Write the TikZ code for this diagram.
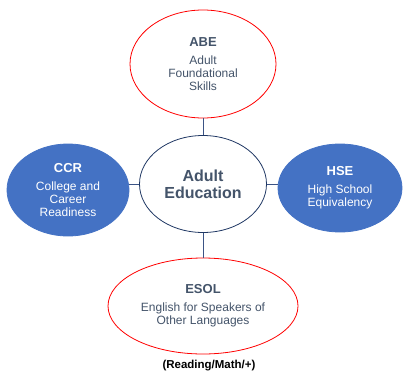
\documentclass[tikz,border=0pt]{standalone}
\usepackage{fontspec}
\setmainfont{Liberation Sans}
\usetikzlibrary{shapes.geometric}
\definecolor{textc}{HTML}{44546A}
\definecolor{fillc}{HTML}{4472C4}
\definecolor{navyc}{HTML}{203864}
\definecolor{linec}{HTML}{3B5385}
\tikzset{
  oval/.style={shape=ellipse, inner sep=0pt, align=center, line width=0.8pt,
    font=\fontsize{12}{13}\selectfont},
  redoval/.style={oval, draw=red, fill=white, text=textc},
  blueoval/.style={oval, draw=fillc, fill=fillc, text=white},
  link/.style={draw=linec, line width=0.8pt}
}
\newcommand{\ttl}[1]{{\fontsize{13}{13}\selectfont\bfseries #1}\\[5pt]}

\begin{document}
\begin{tikzpicture}[x=1pt,y=-1pt]
        \useasboundingbox (0,0) rectangle (404,375);

        \node[redoval, minimum width=146pt, minimum height=108pt]
        (abe) at (203,64) {\ttl{ABE}Adult\\Foundational\\Skills};
        \node[oval, draw=navyc, fill=white, text=textc, minimum width=127pt, minimum height=97pt,
              font=\fontsize{16}{17}\selectfont\bfseries]
        (ctr) at (203,184) {Adult\\Education};
        \node[blueoval, minimum width=122pt, minimum height=92pt]
        (ccr) at (68,190) {\ttl{CCR}College and\\Career\\Readiness};
        \node[blueoval, minimum width=124pt, minimum height=88pt]
        (hse) at (340,188) {\ttl{HSE}High School\\Equivalency};
        \node[redoval, minimum width=190pt, minimum height=96pt]
        (esol) at (203,306) {\ttl{ESOL}English for Speakers of\\Other Languages};

        \node[font=\fontsize{11.5}{13}\selectfont\bfseries] (note) at (209,366) {(Reading/Math/+)};

        \draw[link] (abe) -- (ctr);
        \draw[link] (ctr) -- (esol);
        \draw[link] (ctr.west) -- (ctr.west -| ccr.east);
        \draw[link] (ctr.east) -- (ctr.east -| hse.west);
\end{tikzpicture}
\end{document}
